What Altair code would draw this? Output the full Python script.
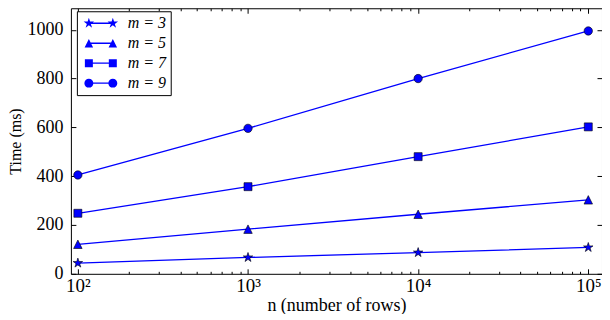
import altair as alt
import pandas as pd

# ---------------- data ----------------
rows = [100, 1000, 10000, 100000]
series_labels = ["m = 3", "m = 5", "m = 7", "m = 9"]
time_m3 = [44, 67, 87, 108]
time_m5 = [121, 183, 244, 303]
time_m7 = [248, 357, 480, 602]
time_m9 = [405, 596, 800, 995]

major_ticks = [100, 1000, 10000, 100000]
major_labels = ["10²", "10³", "10⁴", "10⁵"]
minor_ticks = [200, 300, 400, 500, 600, 700, 800, 900,
               2000, 3000, 4000, 5000, 6000, 7000, 8000, 9000,
               20000, 30000, 40000, 50000, 60000, 70000, 80000, 90000]
y_ticks = [0, 200, 400, 600, 800, 1000]

# ---------------- styling ----------------
W, H = 532, 266
FONT = "Liberation Serif"
BLUE = "#0000ff"

series_values = [time_m3, time_m5, time_m7, time_m9]
records = []
for lab, vals in zip(series_labels, series_values):
    for r, v in zip(rows, vals):
        records.append({"rows": r, "time": v, "series": lab})
df = pd.DataFrame(records)

STAR = ("M0,-1 L0.2245,-0.309 L0.951,-0.309 L0.363,0.118 L0.588,0.809 "
        "L0,0.382 L-0.588,0.809 L-0.363,0.118 L-0.951,-0.309 L-0.2245,-0.309 Z")
TRI = "M0,-1 L1,1 L-1,1 Z"
marker_shapes = [STAR, TRI, "square", "circle"]
marker_sizes = [100, 72, 64, 70]


def scaled_star(cx, r):
    pts = [(0, -1), (0.2245, -0.309), (0.951, -0.309), (0.363, 0.118), (0.588, 0.809),
           (0, 0.382), (-0.588, 0.809), (-0.363, 0.118), (-0.951, -0.309), (-0.2245, -0.309)]
    return "M" + " L".join(f"{cx + x * r:.3f},{y * r:.3f}" for x, y in pts) + " Z"


def tri(cx, r):
    return f"M{cx:.3f},{-r:.3f} L{cx + r:.3f},{r:.3f} L{cx - r:.3f},{r:.3f} Z"


def sq(cx, r):
    return f"M{cx - r:.3f},{-r:.3f} L{cx + r:.3f},{-r:.3f} L{cx + r:.3f},{r:.3f} L{cx - r:.3f},{r:.3f} Z"


def circ(cx, r):
    return (f"M{cx - r:.3f},0 A{r},{r} 0 1 1 {cx + r:.3f},0 "
            f"A{r},{r} 0 1 1 {cx - r:.3f},0 Z")


SEP = 4.8
LINE = f"M0,-0.14 L{SEP},-0.14 L{SEP},0.14 L0,0.14 Z "
legend_shapes = [
    LINE + scaled_star(0, 1.1) + " " + scaled_star(SEP, 1.1),
    LINE + tri(0, 0.85) + " " + tri(SEP, 0.85),
    LINE + sq(0, 0.8) + " " + sq(SEP, 0.8),
    LINE + circ(0, 0.9) + " " + circ(SEP, 0.9),
]

x_scale = alt.Scale(type="log", domain=[91, 120400], nice=False)
y_scale = alt.Scale(domain=[0, 1088], nice=False, zero=False)

label_expr = " : ".join(f"datum.value == {v} ? '{l}'" for v, l in zip(major_ticks, major_labels)) + " : ''"
major_test = " || ".join(f"datum.value == {v}" for v in major_ticks)

x_axis = alt.Axis(
    values=major_ticks + minor_ticks, labelExpr=label_expr, ticks=False, domain=False,
    grid=True, gridColor="black", gridOpacity=1, gridWidth=1,
    gridDash={"condition": {"test": major_test, "value": [5, H - 10, 5, 3000]},
              "value": [2.5, H - 5, 2.5, 3000]},
    labelFont=FONT, labelFontSize=19, labelColor="black", labelPadding=3,
    labelOverlap=False, labelFlush=False,
    title="n (number of rows)", titleFont=FONT, titleFontSize=18,
    titleFontWeight="normal", titleColor="black", titlePadding=1,
)
y_axis = alt.Axis(
    values=y_ticks, format="d", ticks=False, domain=False,
    grid=True, gridColor="black", gridOpacity=1, gridWidth=1,
    gridDash=[5, W - 10, 5, 3000],
    labelFont=FONT, labelFontSize=18, labelColor="black", labelPadding=8,
    labelFlush=False, labelOverlap=False,
    title="Time (ms)", titleFont=FONT, titleFontSize=16,
    titleFontWeight="normal", titleColor="black", titlePadding=3,
)

base = alt.Chart(df).encode(
    x=alt.X("rows:Q", scale=x_scale, axis=x_axis),
    y=alt.Y("time:Q", scale=y_scale, axis=y_axis),
)

lines = base.mark_line(color=BLUE, strokeWidth=1.3).encode(detail="series:N")

layers = [lines]
for lab, shp, sz in zip(series_labels, marker_shapes, marker_sizes):
    layers.append(
        base.transform_filter(alt.datum.series == lab)
        .mark_point(filled=True, fill=BLUE, stroke="black", strokeWidth=0.6,
                    opacity=1, shape=shp, size=sz)
    )

legend_layer = base.transform_filter("false").mark_point(
    filled=True, color=BLUE, opacity=1
).encode(
    shape=alt.Shape(
        "series:N",
        scale=alt.Scale(domain=series_labels, range=legend_shapes),
        legend=alt.Legend(
            title=None, orient="none", legendX=6, legendY=3,
            fillColor="white", strokeColor="black", cornerRadius=0,
            padding=4, rowPadding=4, symbolSize=100, symbolFillColor=BLUE,
            symbolStrokeColor=BLUE, symbolStrokeWidth=0.4, symbolOpacity=1,
            labelFont=FONT, labelFontSize=16, labelFontStyle="italic",
            labelColor="black", labelOffset=31,
        ),
    ),
)
layers.append(legend_layer)

chart = alt.layer(*layers).properties(
    width=W, height=H,
    autosize=alt.AutoSizeParams(type="none"),
    padding={"left": 63, "top": 0, "right": 0, "bottom": 40},
    background="white",
).configure_view(stroke="black", strokeWidth=1)

chart.save("out.html", embed_options={"renderer": "svg", "actions": False})
